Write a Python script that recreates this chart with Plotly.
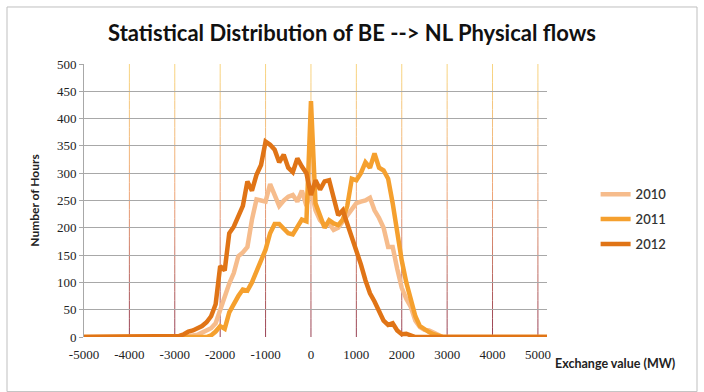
import plotly.graph_objects as go

# ---------------- data ----------------
TITLE = "Statistical Distribution of BE --> NL Physical flows"
SERIES_NAMES = ["2010", "2011", "2012"]
X_TICKS = [-5000, -4000, -3000, -2000, -1000, 0, 1000, 2000, 3000, 4000, 5000]
Y_TICKS = [0, 50, 100, 150, 200, 250, 300, 350, 400, 450, 500]

# bins of 100 MW from -5000 to 5200
EXCHANGE_MW = list(range(-5000, 5300, 100))

ZEROS_LEFT = [0, 0, 0, 0, 0, 0, 0, 0, 0, 0, 0, 0, 0, 0, 0, 0, 0, 0, 0, 0]          # -5000..-3100
ZEROS_RIGHT = [0, 0, 0, 0, 0, 0, 0, 0, 0, 0, 0, 0, 0, 0, 0, 0, 0, 0, 0, 0, 0, 0]    # 3100..5200

HOURS_2010 = ZEROS_LEFT + [
    0, 0, 0, 2, 3, 4, 8, 12, 16, 25,
    50, 75, 98, 117, 148, 155, 165, 215, 252, 250,
    248, 280, 262, 240, 250, 257, 260, 248, 268, 240,
    270, 232, 214, 205, 208, 196, 200, 212, 223, 235,
    245, 248, 250, 255, 232, 218, 200, 165, 165, 125,
    90, 70, 55, 30, 18, 13, 12, 8, 4, 0, 0,
] + ZEROS_RIGHT

HOURS_2011 = ZEROS_LEFT + [
    0, 0, 0, 0, 0, 0, 0, 0, 3, 10,
    20, 15, 45, 62, 75, 87, 85, 100, 120, 140,
    160, 190, 207, 207, 199, 190, 188, 200, 215, 212,
    432, 245, 225, 200, 214, 208, 205, 215, 240, 290,
    287, 300, 320, 310, 336, 310, 305, 290, 245, 190,
    140, 100, 65, 38, 20, 14, 9, 5, 2, 0, 0,
] + ZEROS_RIGHT

HOURS_2012 = ZEROS_LEFT + [
    0, 2, 5, 10, 12, 16, 20, 27, 38, 60,
    130, 122, 190, 202, 220, 240, 285, 268, 297, 315,
    358, 352, 343, 320, 334, 310, 302, 327, 312, 300,
    260, 287, 270, 285, 287, 252, 223, 232, 208, 185,
    160, 133, 104, 80, 65, 49, 30, 22, 25, 12,
    5, 6, 2, 0, 0, 0, 0, 0, 0, 0, 0,
] + ZEROS_RIGHT

SERIES = [HOURS_2010, HOURS_2011, HOURS_2012]
COLORS = ["#F6BC8C", "#F5A02E", "#E07416"]

# ---------------- figure ----------------
fig = go.Figure()

for i, (name, ys) in enumerate(zip(SERIES_NAMES, SERIES)):
    fig.add_trace(go.Scatter(
        x=EXCHANGE_MW, y=ys, mode="lines", name=name,
        legendgroup=name,
        line=dict(color=COLORS[i], width=4.5),
        cliponaxis=False,
    ))

# vertical gridlines with a vertical colour gradient (yellow top -> maroon bottom)
def lerp(a, b, t):
    return tuple(int(round(a[k] + (b[k] - a[k]) * t)) for k in range(3))

TOP = (248, 214, 128)
MID = (238, 162, 118)
BOT = (150, 62, 82)
NSEG = 30
shapes = []
y_lo, y_hi = Y_TICKS[0], Y_TICKS[-1]
for xv in X_TICKS[1:]:
    for s in range(NSEG):
        t0 = s / NSEG
        t1 = (s + 1) / NSEG
        tm = (t0 + t1) / 2  # 0 at bottom, 1 at top
        if tm < 0.5:
            c = lerp(BOT, MID, tm / 0.5)
        else:
            c = lerp(MID, TOP, (tm - 0.5) / 0.5)
        shapes.append(dict(
            type="line", xref="x", yref="y", layer="below",
            x0=xv, x1=xv,
            y0=y_lo + (y_hi - y_lo) * t0, y1=y_lo + (y_hi - y_lo) * t1,
            line=dict(color="rgb(%d,%d,%d)" % c, width=1),
        ))

# outer chart border
shapes.append(dict(
    type="rect", xref="paper", yref="paper",
    x0=-0.1663, x1=1.3240, y0=-0.2000, y1=1.2088,
    line=dict(color="#BFBFBF", width=1), fillcolor="rgba(0,0,0,0)", layer="below",
))

fig.update_layout(
    width=704, height=392,
    margin=dict(l=84, r=157, t=64, b=55),
    paper_bgcolor="white", plot_bgcolor="white",
    title=dict(
        text="<b>" + TITLE + "</b>",
        x=0.5, xref="container", xanchor="center",
        y=1 - 33 / 392, yref="container", yanchor="middle",
        font=dict(family="Lato", size=22, color="#111111"),
    ),
    showlegend=True,
    legend=dict(
        x=1.105, y=0.578, xanchor="left", yanchor="top",
        font=dict(family="Lato", size=13, color="#333333", weight=600),
        tracegroupgap=5,
        bgcolor="rgba(0,0,0,0)",
    ),
    shapes=shapes,
    annotations=[dict(
        text="<b>Exchange value (MW)</b>",
        xref="paper", yref="paper",
        x=(553 - 84) / 463, y=(337 - 363) / 273,
        xanchor="left", yanchor="middle", showarrow=False,
        font=dict(family="Lato", size=12.5, color="#222222"),
    )],
)

fig.update_xaxes(
    range=[-5000, 5200],
    tickmode="array", tickvals=X_TICKS, ticktext=[str(v) for v in X_TICKS],
    showgrid=False, zeroline=False, showline=False,
    ticks="", ticklabelstandoff=8,
    tickfont=dict(family="Liberation Serif", size=13, color="#222222"),
)
fig.update_yaxes(
    range=[0, 500],
    tickmode="array", tickvals=Y_TICKS, ticktext=[str(v) for v in Y_TICKS],
    showgrid=True, gridcolor="#A8A8A8", gridwidth=1,
    zeroline=False, showline=True, linecolor="#A8A8A8", linewidth=1,
    ticks="outside", ticklen=4, tickcolor="#A8A8A8",
    tickfont=dict(family="Liberation Serif", size=13, color="#222222"),
    title=dict(text="<b>Number of Hours</b>", standoff=14,
               font=dict(family="Lato", size=12, color="#222222")),
)

fig.write_html("out.html")
